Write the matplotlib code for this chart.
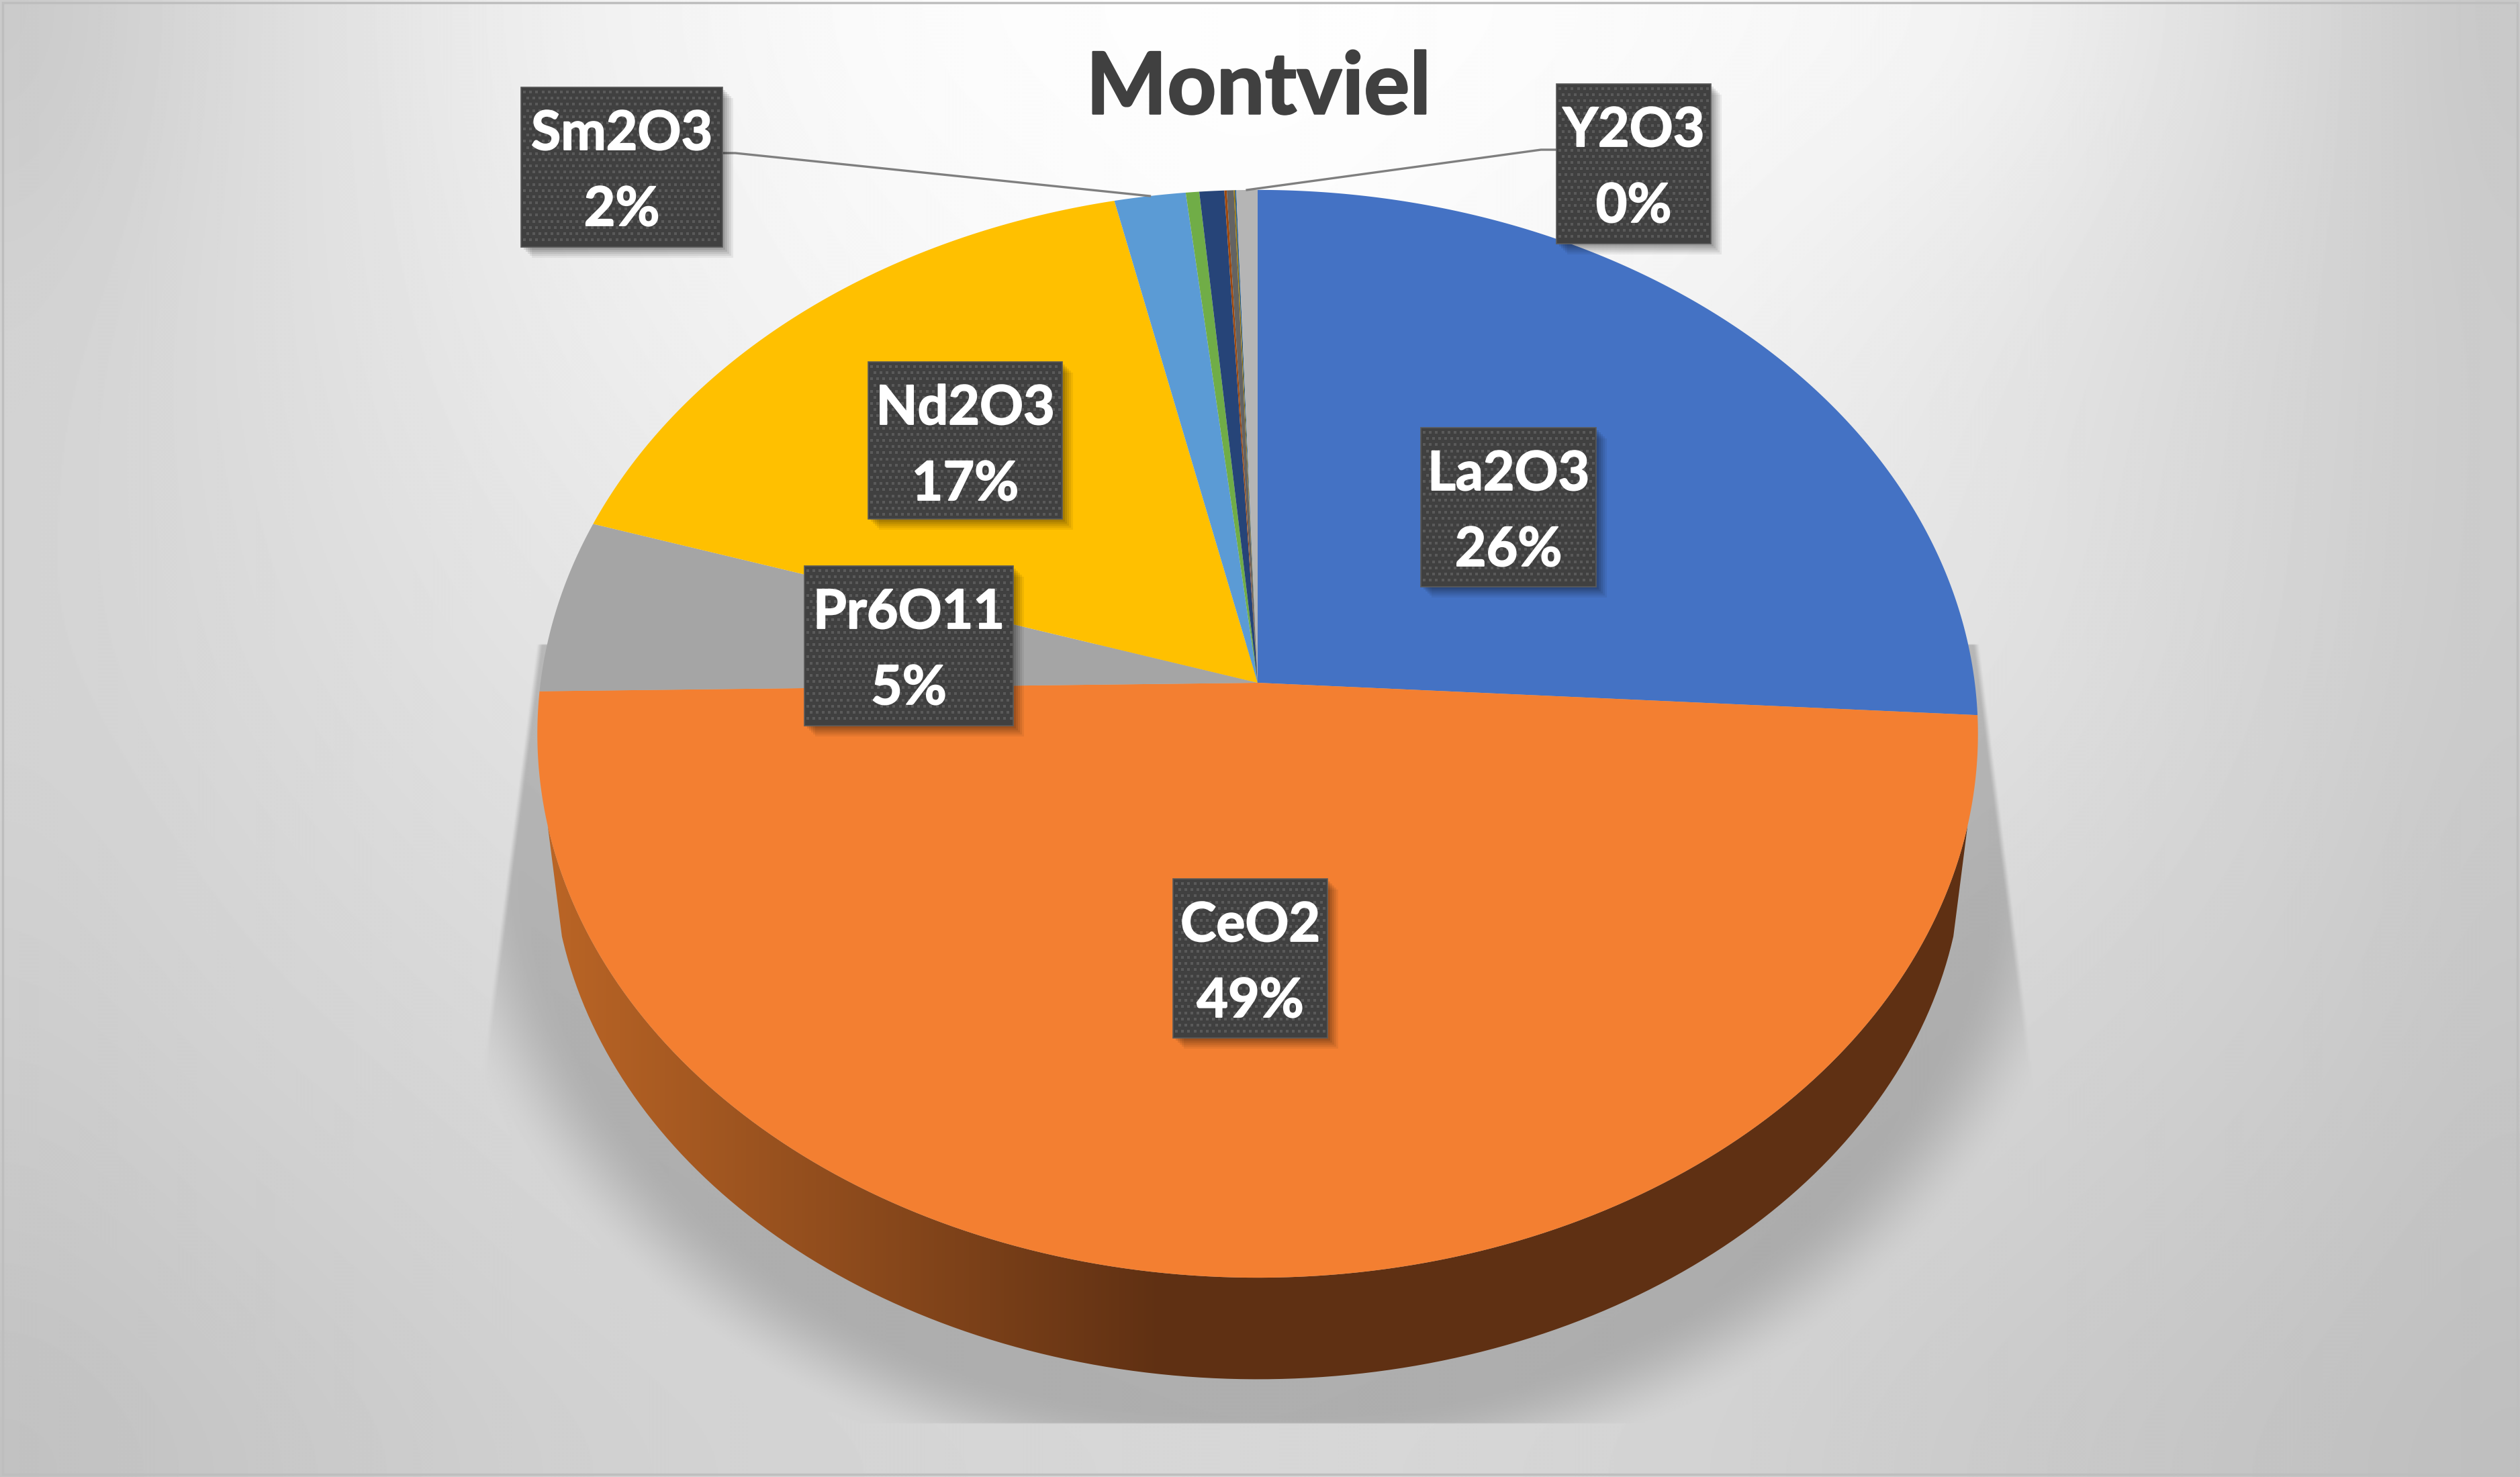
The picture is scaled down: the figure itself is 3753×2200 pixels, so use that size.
# Montviel rare earth oxide pie, drawn as a tilted 3D pie
import numpy as np
import matplotlib.pyplot as plt
import matplotlib.patheffects as pe
from matplotlib.patches import Rectangle, PathPatch
from matplotlib.path import Path

W, H = 3753, 2200

#Data
title = "Montviel"
oxides = ["La2O3", "CeO2", "Pr6O11", "Nd2O3", "Sm2O3", "Eu2O3", "Gd2O3",
          "Tb4O7", "Dy2O3", "Ho2O3", "Er2O3", "Y2O3"]
shares = [25.95, 48.8, 5.15, 16.6, 1.75, 0.33, 0.61, 0.06, 0.17, 0.03, 0.03, 0.52]
colors = ["#4472C4", "#F37F31", "#A5A5A5", "#FFC000", "#5B9BD5", "#70AD47",
          "#264478", "#9E480E", "#636363", "#997300", "#255E91", "#B5B5B5"]
label_text = {"La2O3": "26%", "CeO2": "49%", "Pr6O11": "5%", "Nd2O3": "17%",
              "Sm2O3": "2%", "Y2O3": "0%"}
label_box = {"La2O3": (2116, 637, 2377, 874), "CeO2": (1747, 1309, 1977, 1546),
             "Pr6O11": (1198, 843, 1509, 1081), "Nd2O3": (1293, 539, 1582, 773),
             "Sm2O3": (776, 130, 1076, 368), "Y2O3": (2318, 125, 2548, 363)}

# Background greys
bg_x = [0, 300, 800, 1300, 1873, 2450, 2950, 3400, 3753]
bg_y = [0, 500, 1000, 1500, 2200]
bg_grey = [[0xC2, 0xD8, 0xF0, 0xFC, 0xFF, 0xFC, 0xF6, 0xDC, 0xC0],
           [0xD0, 0xDA, 0xEA, 0xF6, 0xFC, 0xF4, 0xE6, 0xD6, 0xC8],
           [0xD2, 0xD8, 0xE2, 0xEA, 0xEE, 0xE8, 0xE2, 0xD4, 0xC8],
           [0xCC, 0xD2, 0xD9, 0xDE, 0xE0, 0xDC, 0xD6, 0xCE, 0xC4],
           [0xBE, 0xC4, 0xCE, 0xD3, 0xD6, 0xD3, 0xC9, 0xC2, 0xBC]]

#Parameters
cx, cy = 1873, 1017
a, b, k = 1068, 803, 0.0938
scale_low, drop = 0.98, 169
font = ["Lato", "DejaVu Sans"]


def project(theta, s=1.0, d=0.0):
    # theta clockwise from the top of the disc, perspective foreshortening
    u = np.sin(theta)
    v = np.cos(theta)
    t = 1 + k * v
    return cx + s * a * u / t, cy - s * b * v / t + d


def smooth(arr, n, axis):
    # moving average with mirrored ends
    pad = [(0, 0), (0, 0)]
    pad[axis] = (n, n)
    c = np.cumsum(np.pad(arr, pad, mode="reflect"), axis=axis)
    return (np.take(c, range(2 * n, c.shape[axis]), axis=axis)[:] -
            np.take(c, range(0, c.shape[axis] - 2 * n), axis=axis)) / (2 * n)


fig = plt.figure(figsize=(W / 100, H / 100), dpi=100)
ax = fig.add_axes([0, 0, 1, 1])
ax.axis("off")

# Background
yy, xx = np.mgrid[0:H:2, 0:W:2]
xs = xx[0]
ys = yy[:, 0]
rows = np.array([np.interp(xs, bg_x, row) for row in bg_grey])
grey = np.array([np.interp(ys, bg_y, rows[:, j]) for j in range(len(xs))]).T / 255.0
for _ in range(2):
    grey = smooth(grey, 70, 0)[:len(ys), :]
    grey = smooth(grey, 70, 1)[:, :len(xs)]

# Shadow under the pie
e = np.hypot((xx - 1875) / 1190, (yy - 1180) / 1000)
alpha = np.clip((1.07 - e) / 0.14, 0, 1)
alpha = alpha * alpha * (3 - 2 * alpha)
left_edge = 800 - (yy - 954) * 86 / 659
right_edge = 2950 + (yy - 982) * 77 / 604
alpha = alpha * np.clip((xx - left_edge) / 8, 0, 1) * np.clip((right_edge - xx) / 8, 0, 1)
alpha[yy > 2118] = 0
alpha[yy < 960] = 0
grey = grey * (1 - 0.19 * alpha)
ax.imshow(grey, extent=(0, W, H, 0), cmap="gray", vmin=0, vmax=1, aspect="auto",
          interpolation="bilinear", zorder=0)
ax.add_patch(Rectangle((4, 4), W - 8, H - 8, fill=False, ec="#BEBEBE", lw=2.5, zorder=1))

# Pie side
side = np.linspace(np.radians(105), np.radians(255), 300)
x_low, y_low = project(side, scale_low, drop)
x_top, y_top = project(side[::-1])
outline = np.column_stack([np.r_[x_low, x_top], np.r_[y_low, y_top]])
side_patch = PathPatch(Path(np.vstack([outline, outline[:1]])), fc="none", ec="none", zorder=2)
ax.add_patch(side_patch)
shade = np.interp(np.arange(0, W, 4), [800, 1735, W], [0, 1, 1])
light = np.array([0xBC, 0x66, 0x26]) / 255
dark = np.array([0x5F, 0x30, 0x13]) / 255
ramp = (light[None, :] * (1 - shade[:, None]) + dark[None, :] * shade[:, None])[None, :, :]
side_im = ax.imshow(ramp, extent=(0, W, H, 0), aspect="auto", zorder=2)
side_im.set_clip_path(side_patch)
ax.set_xlim(0, W)
ax.set_ylim(H, 0)

# Pie top, one slice per share
edges = np.r_[0, np.cumsum(shares)] / np.sum(shares) * 2 * np.pi
mids = {}
for name, start, stop, col in zip(oxides, edges[:-1], edges[1:], colors):
    n = max(int((stop - start) * 180), 2)
    x_arc, y_arc = project(np.linspace(start, stop, n))
    ax.fill(np.r_[cx, x_arc], np.r_[cy, y_arc], color=col, lw=0, zorder=3)
    mids[name] = (start + stop) / 2

# Leader lines
x_sm, y_sm = project(mids["Sm2O3"])
ax.plot([1076, 1095, x_sm], [228, 228, y_sm], color="#7F7F7F", lw=2.4, zorder=4)
x_y, y_y = project(mids["Y2O3"])
ax.plot([2318, 2295, x_y], [223, 223, y_y], color="#7F7F7F", lw=2.4, zorder=4)

# Data labels
fat = [pe.withStroke(linewidth=1.3, foreground="white")]
for name, (x0, y0, x1, y1) in label_box.items():
    for off, al in zip([16, 13, 10, 7, 4], [0.06, 0.07, 0.08, 0.09, 0.1]):
        ax.add_patch(Rectangle((x0 + off, y0 + off), x1 - x0, y1 - y0, fc="black", ec="none",
                               alpha=al, zorder=5))
    ax.add_patch(Rectangle((x0, y0), x1 - x0, y1 - y0, fc="#404040", ec="#5A5A5A", lw=1.2, zorder=6))
    dot_x, dot_y = [], []
    for i, row in enumerate(np.arange(y0 + 7, y1 - 3, 9.17)):
        for col_x in np.arange(x0 + 5 + (i % 2) * 4.6, x1 - 3, 9.17):
            dot_x.append(col_x)
            dot_y.append(row)
    ax.scatter(dot_x, dot_y, s=7, marker="s", color="#5A5A5A", linewidths=0, zorder=7)
    mid = (x0 + x1) / 2
    ax.text(mid, y0 + 70, name, ha="center", va="center", color="white", fontsize=58,
            fontweight="bold", family=font, zorder=8, path_effects=fat)
    ax.text(mid, y0 + 183, label_text[name], ha="center", va="center", color="white", fontsize=58,
            fontweight="bold", family=font, zorder=8, path_effects=fat)

ax.text(1874, 133, title, ha="center", va="center", color="#404040", fontsize=92,
        fontweight="bold", family=font, zorder=8,
        path_effects=[pe.withStroke(linewidth=1.8, foreground="#404040")])

fig.savefig("out.png", dpi=100)
